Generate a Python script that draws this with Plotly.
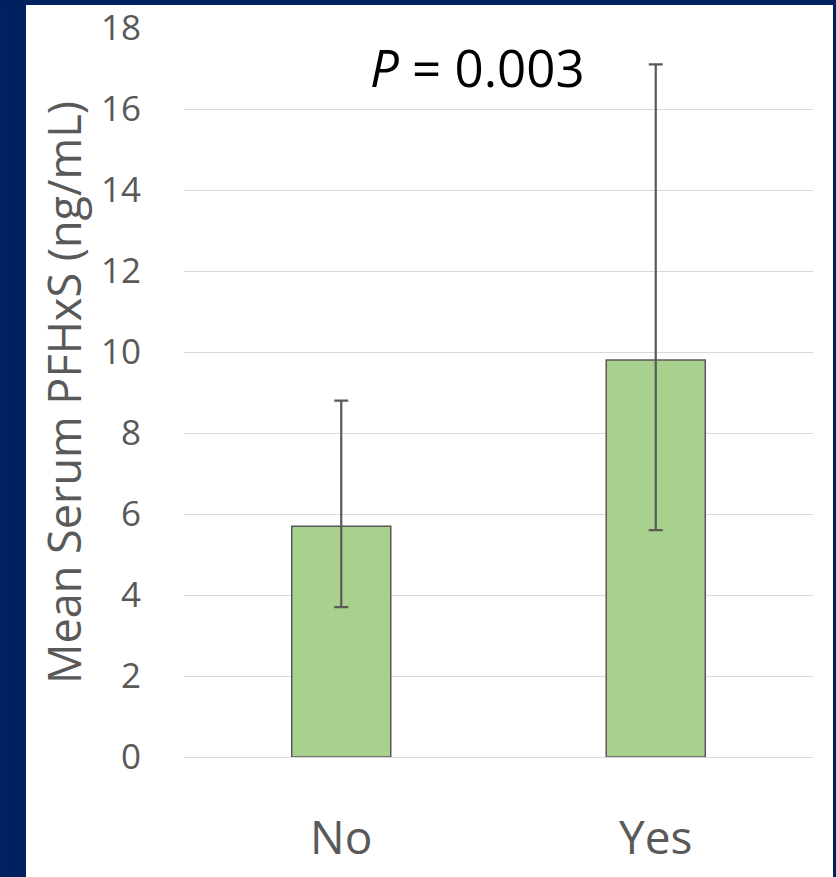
import plotly.graph_objects as go

# Serum PFHxS by group
categories = ["No", "Yes"]
mean_values = [5.7, 9.8]
upper_limits = [8.8, 17.1]
lower_limits = [3.7, 5.6]
y_ticks = [0, 2, 4, 6, 8, 10, 12, 14, 16, 18]
p_label = "<i>P</i> = 0.003"
y_title = "Mean Serum PFHxS (ng/mL)"

NAVY = "#002060"
GRAY = "#595959"
FONT = "Open Sans"

err_plus = [u - m for u, m in zip(upper_limits, mean_values)]
err_minus = [m - l for m, l in zip(mean_values, lower_limits)]

fig = go.Figure(
    go.Bar(
        x=categories,
        y=mean_values,
        marker=dict(color="#a9d18e", line=dict(color=GRAY, width=1.5)),
        error_y=dict(
            type="data",
            symmetric=False,
            array=err_plus,
            arrayminus=err_minus,
            color=GRAY,
            thickness=2.2,
            width=7,
        ),
    )
)

# dark slide frame around the white panel
frame = [
    (-0.2925, -0.2512, -0.2, 1.04),   # left strip
    (-0.2925, 1.0366, 1.0316, 1.04),  # top strip
    (1.0318, 1.0366, -0.2, 1.04),     # right strip
]
shapes = [
    dict(type="rect", xref="paper", yref="paper", x0=a, x1=b, y0=c, y1=d,
         fillcolor=NAVY, line=dict(width=0), layer="above")
    for a, b, c, d in frame
]

fig.update_layout(
    width=836,
    height=877,
    margin=dict(l=184, r=23, t=28, b=120),
    paper_bgcolor="white",
    plot_bgcolor="white",
    bargap=0.685,
    showlegend=False,
    font=dict(family=FONT, color=GRAY),
    shapes=shapes,
    annotations=[
        dict(text=p_label, xref="paper", yref="paper", x=0.466, y=0.946,
             showarrow=False, font=dict(family=FONT, size=51, color="black"),
             xanchor="center", yanchor="middle")
    ],
)

fig.update_yaxes(
    range=[0, 18],
    tickvals=y_ticks,
    automargin=False,
    showgrid=True,
    gridcolor="#d9d9d9",
    gridwidth=1.3,
    zeroline=True,
    zerolinecolor="#d9d9d9",
    zerolinewidth=1.3,
    showline=False,
    ticks="",
    ticklabelstandoff=42,
    tickfont=dict(family=FONT, size=35, color=GRAY),
    title=dict(text=y_title, font=dict(family=FONT, size=45, color=GRAY), standoff=5),
)

fig.update_xaxes(
    automargin=False,
    showline=False,
    ticks="",
    ticklabelstandoff=50,
    tickfont=dict(family=FONT, size=46, color=GRAY),
)

fig.write_html("out.html")
